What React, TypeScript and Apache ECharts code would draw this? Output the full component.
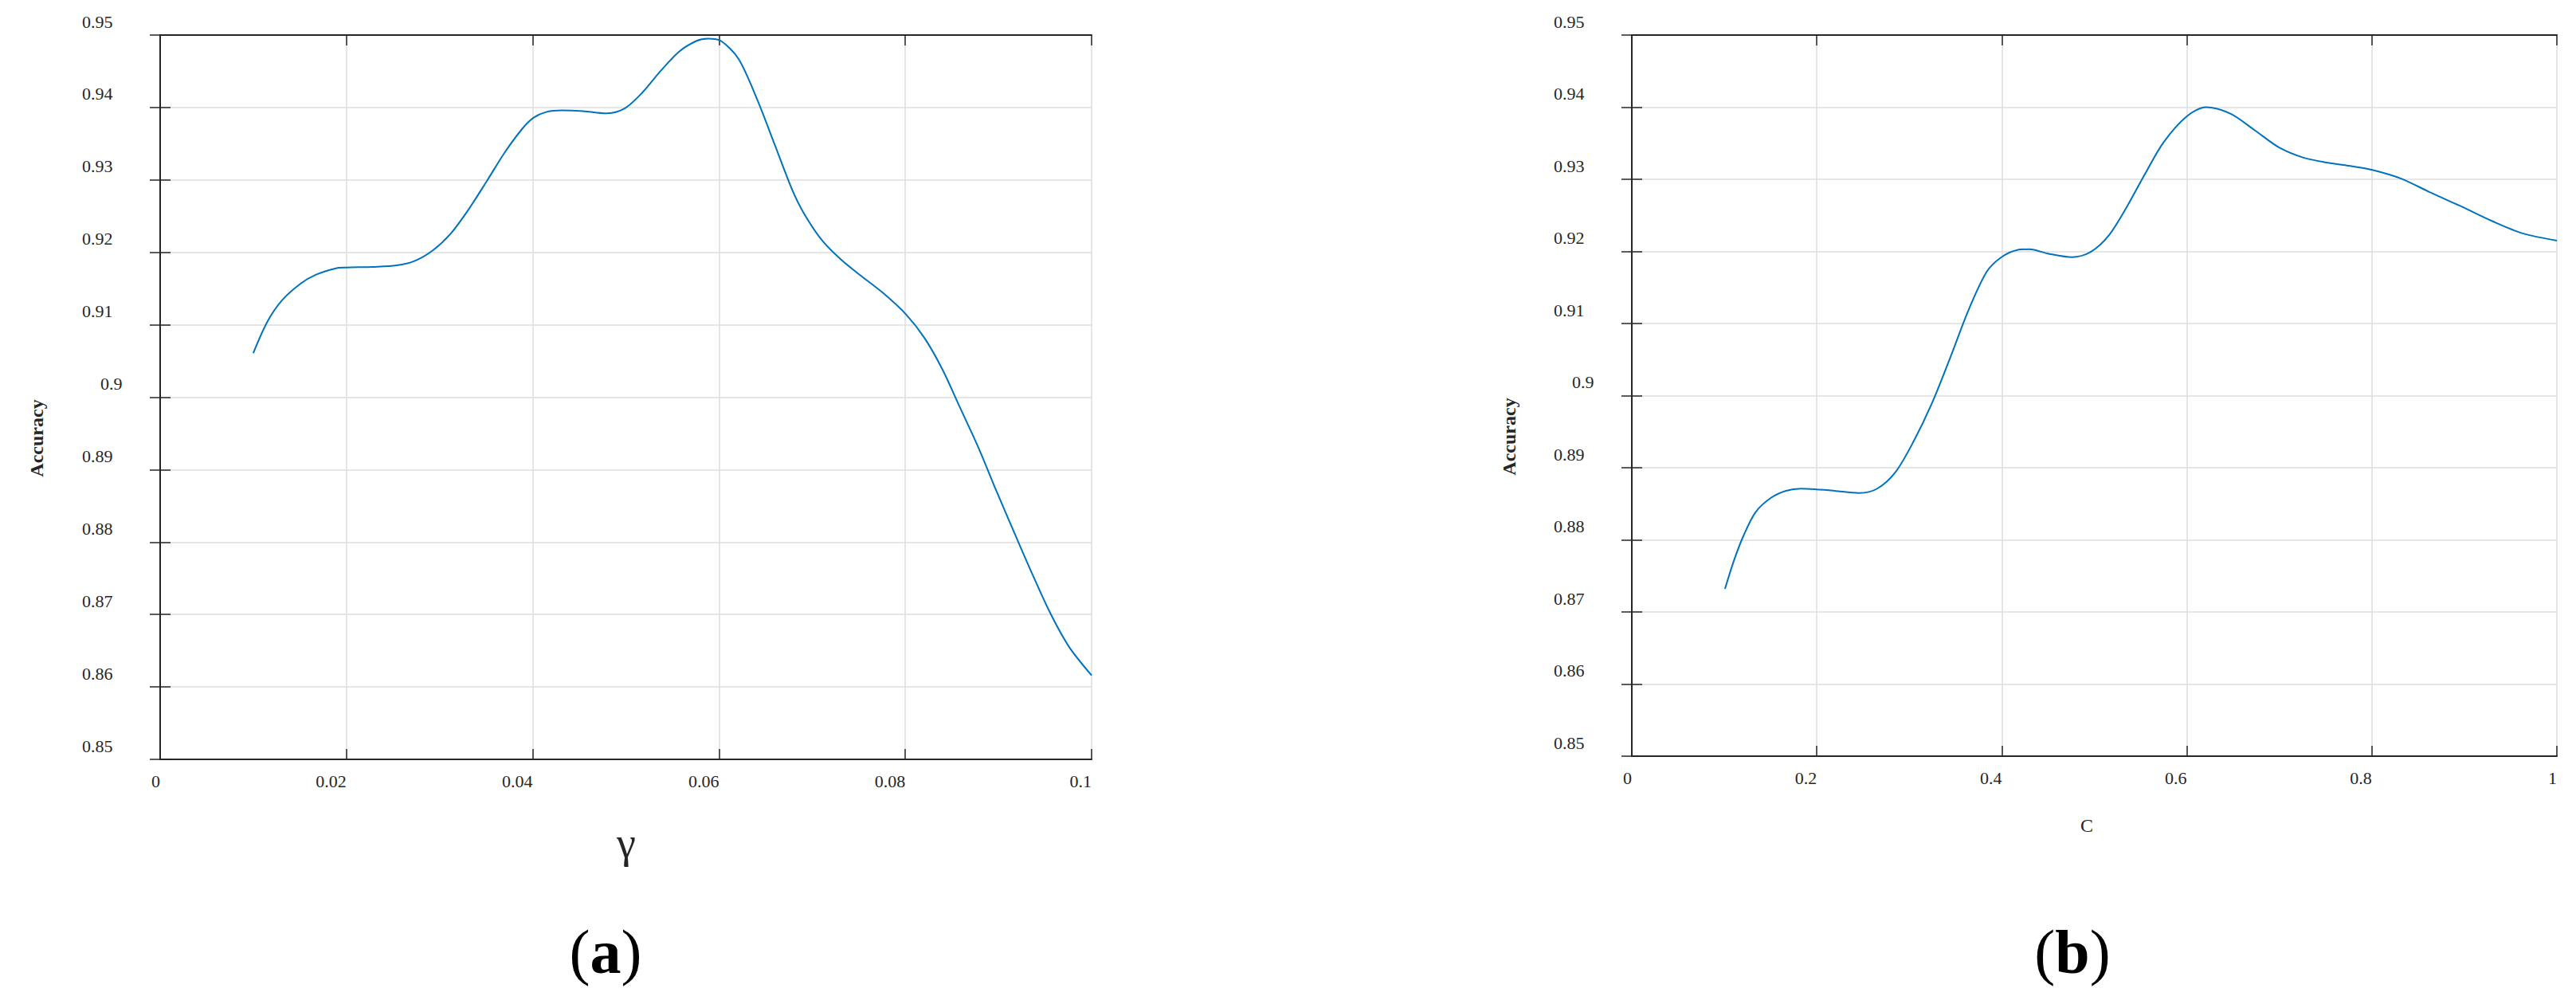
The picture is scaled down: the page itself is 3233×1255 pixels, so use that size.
import { useEffect, useRef } from "react";
import * as echarts from "echarts";

// ---- data ----
const gammaValues = [
  0.0100, 0.0115, 0.0131, 0.0151, 0.0167, 0.0189, 0.0200, 0.0228, 0.0254, 0.0273,
  0.0293, 0.0312, 0.0331, 0.0351, 0.0370, 0.0389, 0.0401, 0.0415, 0.0431, 0.0454,
  0.0479, 0.0499, 0.0518, 0.0537, 0.0557, 0.0576, 0.0588, 0.0602, 0.0621, 0.0641,
  0.0660, 0.0679, 0.0692, 0.0711, 0.0731, 0.0750, 0.0776, 0.0801, 0.0821, 0.0840,
  0.0859, 0.0879, 0.0898, 0.0918, 0.0937, 0.0956, 0.0976, 0.1000,
];
const gammaAccuracy = [
  0.9061, 0.9104, 0.9134, 0.9157, 0.9169, 0.9178, 0.9179, 0.9180, 0.9182, 0.9188,
  0.9203, 0.9226, 0.9259, 0.9299, 0.9338, 0.9371, 0.9386, 0.9394, 0.9396, 0.9395,
  0.9392, 0.9399, 0.9421, 0.9450, 0.9477, 0.9492, 0.9495, 0.9492, 0.9467, 0.9411,
  0.9348, 0.9285, 0.9252, 0.9216, 0.9190, 0.9170, 0.9144, 0.9114, 0.9081, 0.9038,
  0.8985, 0.8929, 0.8870, 0.8810, 0.8754, 0.8701, 0.8655, 0.8616,
];
const cValues = [
  0.1007, 0.1106, 0.1205, 0.1336, 0.1501, 0.1666, 0.1830, 0.1995, 0.2192, 0.2456,
  0.2653, 0.2851, 0.3048, 0.3246, 0.3443, 0.3641, 0.3838, 0.3996, 0.4167, 0.4299,
  0.4497, 0.4760, 0.4957, 0.5155, 0.5352, 0.5550, 0.5747, 0.5997, 0.6208, 0.6471,
  0.6734, 0.6998, 0.7261, 0.7524, 0.7788, 0.8005, 0.8315, 0.8644, 0.8973, 0.9302,
  0.9631, 1.0000,
];
const cAccuracy = [
  0.8732, 0.8772, 0.8805, 0.8838, 0.8858, 0.8868, 0.8871, 0.8870, 0.8868, 0.8865,
  0.8871, 0.8894, 0.8937, 0.8990, 0.9053, 0.9119, 0.9172, 0.9192, 0.9202, 0.9203,
  0.9197, 0.9192, 0.9199, 0.9222, 0.9262, 0.9308, 0.9351, 0.9387, 0.9400, 0.9391,
  0.9368, 0.9344, 0.9330, 0.9323, 0.9318, 0.9313, 0.9301, 0.9281, 0.9262, 0.9242,
  0.9225, 0.9215,
];
const yTickLabels = ["0.85", "0.86", "0.87", "0.88", "0.89", "0.9", "0.91", "0.92", "0.93", "0.94", "0.95"];
const gammaTickLabels = ["0", "0.02", "0.04", "0.06", "0.08", "0.1"];
const cTickLabels = ["0", "0.2", "0.4", "0.6", "0.8", "1"];

const FONT = "Liberation Serif";
const AXIS_COLOR = "#262626";
const GRID_COLOR = "#dedede";
const LINE_COLOR = "#0072BD";

const yLabelFmt = (v: number) => {
  const s = yTickLabels[Math.round((v - 0.85) / 0.01)] ?? "";
  return s === "0.9" ? `{w|${s}}` : `{n|${s}}`;
};

const makeX = (gridIndex: number, max: number, interval: number, labels: string[]) => [
  {
    type: "value",
    gridIndex,
    min: 0,
    max,
    interval,
    position: "bottom",
    axisLine: { show: true, lineStyle: { color: AXIS_COLOR, width: 2 } },
    axisTick: { show: true, inside: true, length: 13, lineStyle: { color: AXIS_COLOR, width: 1.5 } },
    splitLine: { show: true, lineStyle: { color: GRID_COLOR, width: 1.5 } },
    axisLabel: {
      show: true,
      margin: 16,
      align: "right",
      fontFamily: FONT,
      fontSize: 22,
      color: AXIS_COLOR,
      formatter: (v: number) => labels[Math.round(v / interval)] ?? "",
    },
  },
  {
    type: "value",
    gridIndex,
    min: 0,
    max,
    interval,
    position: "top",
    axisLine: { show: true, lineStyle: { color: AXIS_COLOR, width: 2 } },
    axisTick: { show: true, inside: true, length: 13, lineStyle: { color: AXIS_COLOR, width: 1.5 } },
    splitLine: { show: false },
    axisLabel: { show: false },
  },
];

const makeY = (gridIndex: number) => [
  {
    type: "value",
    gridIndex,
    min: 0.85,
    max: 0.95,
    interval: 0.01,
    position: "left",
    axisLine: { show: true, lineStyle: { color: AXIS_COLOR, width: 2 } },
    axisTick: { show: true, inside: true, length: 13, lineStyle: { color: AXIS_COLOR, width: 1.5 } },
    splitLine: { show: true, lineStyle: { color: GRID_COLOR, width: 1.5 } },
    axisLabel: {
      show: true,
      margin: 98,
      align: "left",
      verticalAlign: "middle",
      padding: [0, 0, 34, 0],
      formatter: yLabelFmt,
      rich: {
        n: { fontFamily: FONT, fontSize: 22, color: AXIS_COLOR },
        w: { fontFamily: FONT, fontSize: 22, color: AXIS_COLOR, padding: [0, 0, 0, 23] },
      },
    },
  },
  {
    type: "value",
    gridIndex,
    min: 0.85,
    max: 0.95,
    interval: 0.01,
    position: "right",
    axisLine: { show: true, lineStyle: { color: AXIS_COLOR, width: 2 } },
    axisTick: { show: true, inside: true, length: 13, lineStyle: { color: AXIS_COLOR, width: 1.5 } },
    splitLine: { show: false },
    axisLabel: { show: false },
  },
];

export default function App() {
  const ref = useRef<HTMLDivElement>(null);
  useEffect(() => {
    const chart = echarts.init(ref.current!, null, { renderer: "svg" });
    const option: any = {
      animation: false,
      backgroundColor: "#ffffff",
      grid: [
        { left: 201, top: 44, width: 1169, height: 909 },
        { left: 2048, top: 44, width: 1161, height: 905 },
      ],
      xAxis: [...makeX(0, 0.1, 0.02, gammaTickLabels), ...makeX(1, 1, 0.2, cTickLabels)],
      yAxis: [...makeY(0), ...makeY(1)],
      series: [
        {
          type: "line",
          xAxisIndex: 0,
          yAxisIndex: 0,
          data: gammaValues.map((x, i) => [x, gammaAccuracy[i]]),
          showSymbol: false,
          smooth: 0.3,
          lineStyle: { color: LINE_COLOR, width: 2 },
          itemStyle: { color: LINE_COLOR },
        },
        {
          type: "line",
          xAxisIndex: 2,
          yAxisIndex: 2,
          data: cValues.map((x, i) => [x, cAccuracy[i]]),
          showSymbol: false,
          smooth: 0.3,
          lineStyle: { color: LINE_COLOR, width: 2 },
          itemStyle: { color: LINE_COLOR },
        },
      ],
      graphic: [
        {
          type: "text",
          x: 46,
          y: 550,
          rotation: Math.PI / 2,
          style: { text: "Accuracy", fontFamily: FONT, fontSize: 24, fontWeight: "bold", fill: AXIS_COLOR, align: "center", verticalAlign: "middle" },
        },
        {
          type: "text",
          x: 1894,
          y: 548,
          rotation: Math.PI / 2,
          style: { text: "Accuracy", fontFamily: FONT, fontSize: 24, fontWeight: "bold", fill: AXIS_COLOR, align: "center", verticalAlign: "middle" },
        },
        {
          type: "text",
          x: 786,
          y: 1058,
          style: { text: "γ", fontFamily: FONT, fontSize: 54, fill: AXIS_COLOR, align: "center", verticalAlign: "middle" },
        },
        {
          type: "text",
          x: 2619,
          y: 1036,
          style: { text: "C", fontFamily: FONT, fontSize: 24, fill: AXIS_COLOR, align: "center", verticalAlign: "middle" },
        },
        {
          type: "text",
          x: 760,
          y: 1194,
          style: {
            text: "{p|(}{b|a}{p|)}",
            align: "center",
            verticalAlign: "middle",
            rich: {
              p: { fontFamily: FONT, fontSize: 78, fill: "#000" },
              b: { fontFamily: FONT, fontSize: 78, fontWeight: "bold", fill: "#000" },
            },
          },
        },
        {
          type: "text",
          x: 2601,
          y: 1194,
          style: {
            text: "{p|(}{b|b}{p|)}",
            align: "center",
            verticalAlign: "middle",
            rich: {
              p: { fontFamily: FONT, fontSize: 78, fill: "#000" },
              b: { fontFamily: FONT, fontSize: 78, fontWeight: "bold", fill: "#000" },
            },
          },
        },
      ],
    };
    chart.setOption(option);
    return () => chart.dispose();
  }, []);
  return (
    <div
      ref={ref}
      style={{ position: "fixed", left: 0, top: 0, width: 3233, height: 1255, background: "#ffffff" }}
    />
  );
}
